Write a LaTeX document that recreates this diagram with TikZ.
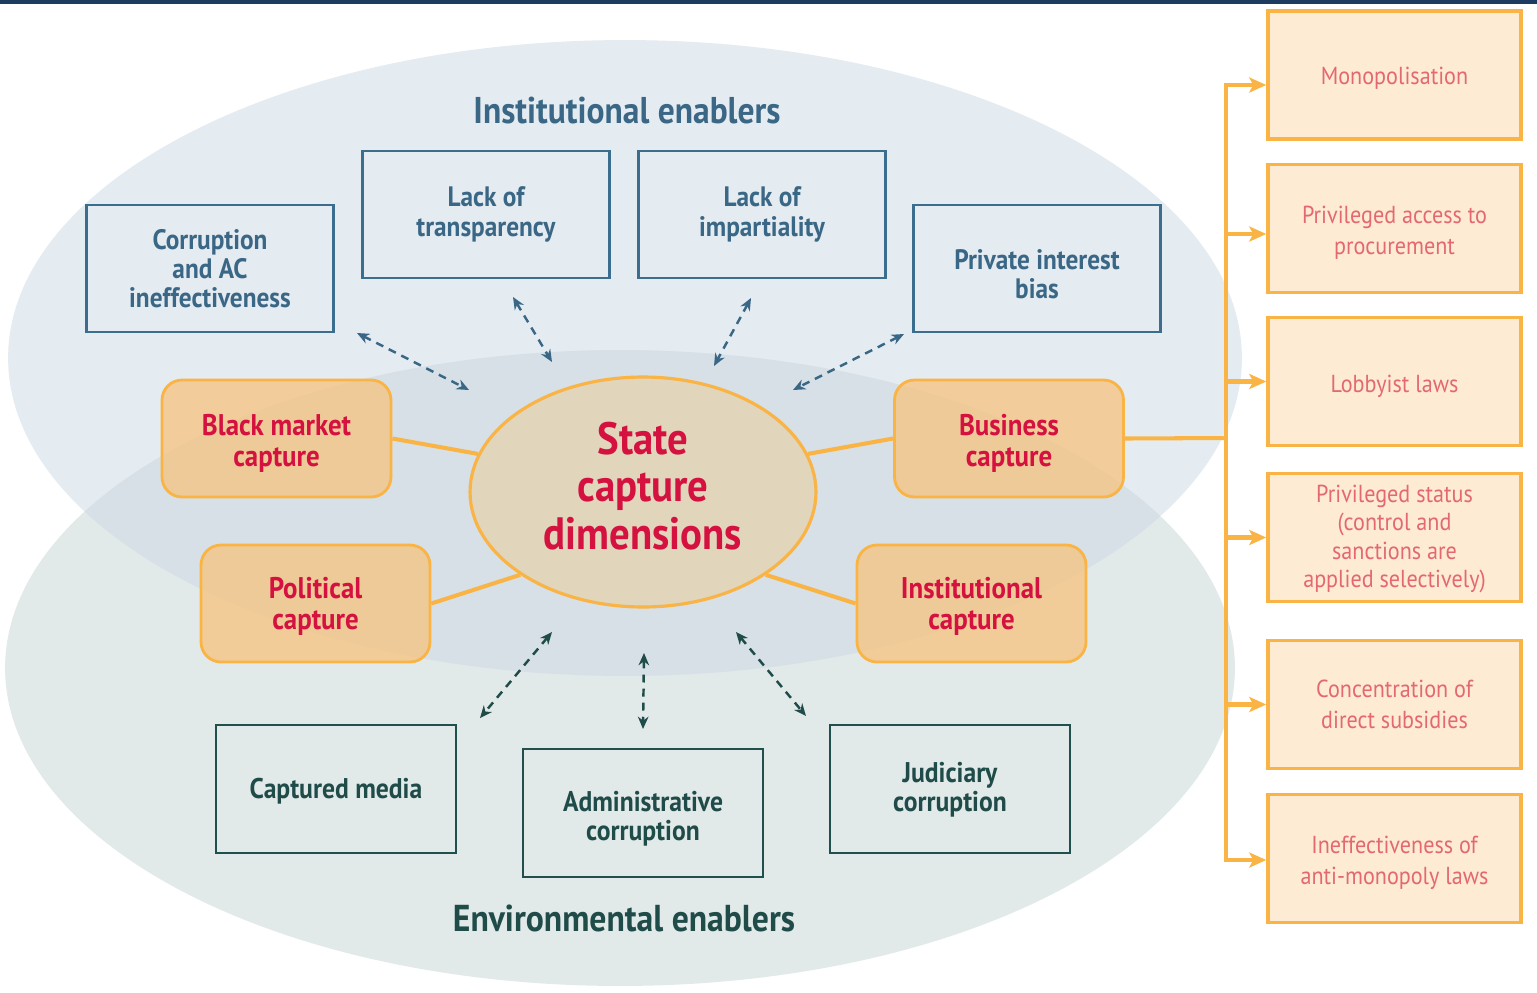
\documentclass[tikz,border=0pt]{standalone}
\usepackage{fontspec}
\setmainfont{PT Sans}[FakeStretch=0.9]
\usetikzlibrary{arrows.meta,shapes.geometric}
\definecolor{navy}{HTML}{1D3A60}
\definecolor{upell}{HTML}{E4EBF1}
\definecolor{lowell}{HTML}{E2E9E9}
\definecolor{overl}{HTML}{D6E0E6}
\definecolor{scfill}{HTML}{E1D5BC}
\definecolor{orbd}{HTML}{F9B445}
\definecolor{capfill}{HTML}{F8C27A}
\definecolor{crim}{HTML}{D4113F}
\definecolor{bluebd}{HTML}{3B6D8E}
\definecolor{bluetx}{HTML}{3A6785}
\definecolor{grbd}{HTML}{20504D}
\definecolor{grtx}{HTML}{1F4B49}
\definecolor{rfill}{HTML}{FDEBD4}
\definecolor{salmon}{HTML}{E3686F}
% lower a (possibly multi-line) centred text by #1, keeping its box size
\newcommand{\lowtxt}[2]{\raisebox{-#1}[\height][\depth]{\begin{tabular}{@{}c@{}}#2\end{tabular}}}
\begin{document}
\begin{tikzpicture}[x=0.02cm,y=-0.02cm,
  blbox/.style={draw=bluebd, line width=1.6pt, minimum width=4.94cm, minimum height=2.54cm, inner sep=0pt, align=center, text=bluetx, font=\bfseries\fontsize{16}{16.6}\selectfont},
  grbox/.style={draw=grbd, line width=1.6pt, minimum width=4.8cm, minimum height=2.56cm, inner sep=0pt, align=center, text=grtx, font=\bfseries\fontsize{16.2}{16.6}\selectfont},
  capbox/.style={draw=orbd, line width=1.6pt, fill=capfill, fill opacity=0.72, text opacity=1, rounded corners=0.4cm, minimum width=4.58cm, minimum height=2.34cm, inner sep=0pt, align=center, text=crim, font=\bfseries\fontsize{17}{17.6}\selectfont},
  rbox/.style={draw=orbd, line width=2pt, fill=rfill, minimum width=5.06cm, minimum height=2.56cm, inner sep=0pt, align=center, text=salmon, font=\fontsize{14}{17.8}\selectfont},
  darrowb/.style={draw=bluetx, line width=1.4pt, dash pattern=on 4.5pt off 3.5pt, arrows={Stealth[length=7pt,width=6pt]-Stealth[length=7pt,width=6pt]}},
  darrowg/.style={darrowb, draw=grtx},
  olink/.style={draw=orbd, line width=2.3pt},
  oarrow/.style={olink, -{Stealth[length=0.34cm,width=0.3cm,inset=0.08cm]}}
]
\useasboundingbox (0,0) rectangle (1537,992);
\fill[white] (0,0) rectangle (1537,992);
\fill[navy] (0,0) rectangle (1537,4);
% enabler ellipses
\fill[lowell] (620,668) ellipse [x radius=12.3cm, y radius=6.36cm];
\fill[upell] (625,358) ellipse [x radius=12.34cm, y radius=6.36cm];
\begin{scope}
  \clip (620,668) ellipse [x radius=12.3cm, y radius=6.36cm];
  \fill[overl] (625,358) ellipse [x radius=12.34cm, y radius=6.36cm];
\end{scope}

\node[text=bluetx, font=\bfseries\fontsize{21.2}{24}\selectfont] (inslab) at (627,111) {Institutional enablers};
\node[text=grtx, font=\bfseries\fontsize{21.3}{24}\selectfont] (envlab) at (624,918) {Environmental enablers};

% centre
\node[ellipse, draw=orbd, line width=1.8pt, fill=scfill, minimum width=6.92cm, minimum height=4.6cm, inner sep=0pt] (sc) at (643,492) {};
\node[text=crim, align=center, font=\bfseries\fontsize{25.8}{27.2}\selectfont] (sct) at (643,486) {State\\capture\\dimensions};

% institutional enablers
\node[blbox] (corr) at (210,268.5) {Corruption\\and AC\\ineffectiveness};
\node[blbox] (transp) at (486,214.5) {Lack of\\transparency};
\node[blbox] (impart) at (762,214.5) {Lack of\\impartiality};
\node[blbox] (privint) at (1037,268.5) {\lowtxt{0.2cm}{Private interest\\bias}};

% environmental enablers
\node[grbox] (media) at (336,789) {\lowtxt{0.08cm}{Captured media}};
\node[grbox] (admin) at (643,813) {\lowtxt{0.14cm}{Administrative\\corruption}};
\node[grbox] (jud) at (950,789) {\lowtxt{0.04cm}{Judiciary\\corruption}};

% capture boxes
\node[capbox] (bm) at (276.5,438.5) {\lowtxt{0.12cm}{Black market\\capture}};
\node[capbox] (bus) at (1009,438.5) {\lowtxt{0.12cm}{Business\\capture}};
\node[capbox] (pol) at (315.5,603.5) {\lowtxt{0.08cm}{Political\\capture}};
\node[capbox] (inst) at (971.5,603.5) {\lowtxt{0.08cm}{Institutional\\capture}};

\draw[olink] (bm.east) -- (sc.167);
\draw[olink] (bus.west) -- (sc.13);
\draw[olink] (pol.east) -- (sc.214);
\draw[olink] (inst.west) -- (sc.326);

% dashed arrows
\coordinate (a1s) at (357,333); \coordinate (a1e) at (469,390);
\coordinate (a2s) at (513,297); \coordinate (a2e) at (552,362);
\coordinate (a3s) at (751,298); \coordinate (a3e) at (714,366);
\coordinate (a4s) at (904,334); \coordinate (a4e) at (793,390);
\draw[darrowb] (a1s) -- (a1e);
\draw[darrowb] (a2s) -- (a2e);
\draw[darrowb] (a3s) -- (a3e);
\draw[darrowb] (a4s) -- (a4e);
\coordinate (b1s) at (552,632); \coordinate (b1e) at (480,718);
\coordinate (b2s) at (644,653); \coordinate (b2e) at (643,729);
\coordinate (b3s) at (736,632); \coordinate (b3e) at (806,716);
\draw[darrowg] (b1s) -- (b1e);
\draw[darrowg] (b2s) -- (b2e);
\draw[darrowg] (b3s) -- (b3e);

% right column
\node[rbox] (r1) at (1394.5,75) {\lowtxt{0.06cm}{Monopolisation}};
\node[rbox] (r2) at (1394.5,228.5) {\lowtxt{0.08cm}{Privileged access to\\procurement}};
\node[rbox] (r3) at (1394.5,381.5) {\lowtxt{0.1cm}{Lobbyist laws}};
\node[rbox, font=\fontsize{14}{16.2}\selectfont] (r4) at (1394.5,537.5) {\lowtxt{0.04cm}{Privileged status\\(control and\\sanctions are\\applied selectively)}};
\node[rbox] (r5) at (1394.5,704.5) {\lowtxt{0.05cm}{Concentration of\\direct subsidies}};
\node[rbox] (r6) at (1394.5,858.5) {\lowtxt{0.09cm}{Ineffectiveness of\\anti-monopoly laws}};

\coordinate (trunk) at (1226,438);
\coordinate (t1) at (1226,85);
\coordinate (t2) at (1226,234);
\coordinate (t6) at (1226,860);
\draw[olink] (bus.east) -- (trunk);
\draw[olink, line cap=rect] (t1) -- (t6);
\draw[oarrow] (t1) -- (t1 -| r1.west);
\draw[oarrow] (t2) -- (t2 -| r2.west);
\draw[oarrow] (trunk |- r3.west) -- (r3.west);
\draw[oarrow] (trunk |- r4.west) -- (r4.west);
\draw[oarrow] (trunk |- r5.west) -- (r5.west);
\draw[oarrow] (t6) -- (t6 -| r6.west);
\end{tikzpicture}
\end{document}
